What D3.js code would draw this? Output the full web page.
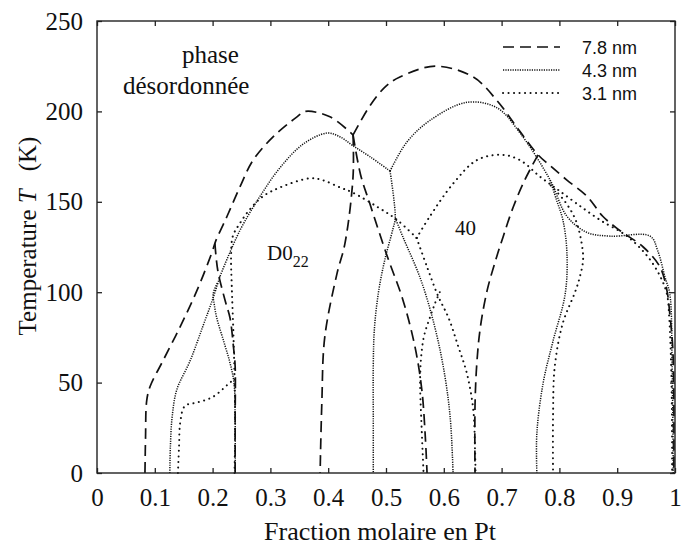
<!DOCTYPE html>
<html>
<head>
<meta charset="utf-8">
<script src="https://cdn.jsdelivr.net/npm/d3@7"></script>
<style>
  body { margin: 0; background: #fff; }
  svg { display: block; }
</style>
</head>
<body>
<div id="chart"></div>
<script>
// tick values
const xTicks = [0, 0.1, 0.2, 0.3, 0.4, 0.5, 0.6, 0.7, 0.8, 0.9, 1];
const yTicks = [0, 50, 100, 150, 200, 250];

// 7.8 nm (dashed) -- [fraction Pt, T]
const d78Outer = [[0.083,0],[0.084,20],[0.086,40],[0.092,48],[0.114,62],[0.144,81],[0.173,101],[0.2,123],[0.205,128],[0.225,142],[0.247,158],[0.27,173],[0.305,186],[0.346,197],[0.36,200],[0.403,197],[0.443,187]];
const d78InnerD022 = [[0.204,127],[0.209,112],[0.222,95],[0.23,86],[0.236,70],[0.239,59],[0.239,30],[0.239,0]];
const d78Dome40 = [[0.443,187],[0.472,203],[0.5,214],[0.524,219],[0.585,225],[0.651,219],[0.692,206],[0.727,191],[0.763,176],[0.784,170],[0.813,162],[0.848,153],[0.875,142],[0.905,134],[0.945,125],[0.974,114],[0.986,101],[0.991,88],[0.996,70],[0.998,40],[0.998,0]];
const d78Left40 = [[0.443,187],[0.443,164],[0.429,127],[0.415,110],[0.394,75],[0.389,39],[0.386,0]];
const d78RightD022 = [[0.443,187],[0.456,165],[0.472,149],[0.502,120],[0.529,96],[0.55,70],[0.562,46],[0.568,20],[0.571,0]];
const d78Right40 = [[0.763,176],[0.74,162],[0.72,147],[0.703,131],[0.69,118],[0.675,101],[0.663,80],[0.657,60],[0.654,37],[0.654,0]];

// 4.3 nm (fine dots)
const d43OuterLeft = [[0.126,0],[0.127,15],[0.13,31],[0.138,46],[0.161,62],[0.183,81],[0.2,96],[0.213,109]];
const d43DomeD022 = [[0.213,109],[0.247,134],[0.282,153],[0.317,169],[0.357,182],[0.398,188],[0.42,186],[0.443,181],[0.472,175],[0.507,167]];
const d43InnerD022 = [[0.208,105],[0.201,99],[0.203,93],[0.207,86],[0.22,72],[0.23,61],[0.237,50],[0.239,30],[0.239,0]];
const d43Dome40 = [[0.507,167],[0.536,183],[0.576,195],[0.64,205],[0.692,202],[0.732,188],[0.784,162],[0.813,142],[0.848,133],[0.888,131],[0.957,131],[0.97,123],[0.983,108],[0.991,99],[0.995,60],[0.997,0]];
const d43Left40 = [[0.507,167],[0.516,141],[0.512,135],[0.498,118],[0.487,100],[0.48,80],[0.478,60],[0.478,30],[0.478,0]];
const d43RightD022 = [[0.516,141],[0.53,130],[0.559,108],[0.581,85],[0.599,59],[0.611,31],[0.616,0]];
const d43Right40 = [[0.784,162],[0.795,151],[0.806,140],[0.813,122],[0.81,99],[0.789,73],[0.772,50],[0.761,22],[0.761,0]];

// 3.1 nm (sparse dots)
const d31OuterLeft = [[0.14,0],[0.142,15],[0.144,28],[0.152,37],[0.173,39],[0.2,42],[0.23,50],[0.238,52]];
const d31DomeD022 = [[0.238,0],[0.239,30],[0.238,52],[0.236,77],[0.233,105],[0.232,120],[0.235,131],[0.247,138],[0.265,146],[0.287,153],[0.317,158],[0.369,163],[0.39,162],[0.42,158],[0.443,155],[0.486,147],[0.519,140],[0.553,130]];
const d31RightD022 = [[0.553,130],[0.571,114],[0.59,98],[0.608,86],[0.625,70],[0.64,55],[0.651,35],[0.654,13],[0.655,0]];
const d31Dome40 = [[0.553,130],[0.576,142],[0.616,160],[0.657,173],[0.7,176],[0.732,173],[0.766,164],[0.796,157],[0.83,149],[0.87,140],[0.917,131],[0.952,120],[0.974,109],[0.986,99],[0.99,86],[0.994,50],[0.995,0]];
const d31Left40 = [[0.593,100],[0.585,94],[0.576,86],[0.566,76],[0.561,65],[0.559,51],[0.561,30],[0.565,0]];
const d31Right40 = [[0.785,159],[0.81,150],[0.828,140],[0.838,128],[0.841,118],[0.835,108],[0.827,100],[0.806,83],[0.792,59],[0.789,31],[0.789,0]];

const seriesNames = ['7.8 nm', '4.3 nm', '3.1 nm'];
const seriesSegments = [
    [d78Outer, d78InnerD022, d78Dome40, d78Left40, d78RightD022, d78Right40],
    [d43OuterLeft, d43DomeD022, d43InnerD022, d43Dome40, d43Left40, d43RightD022, d43Right40],
    [d31OuterLeft, d31DomeD022, d31RightD022, d31Dome40, d31Left40, d31Right40]
];

const SERIF = '"Liberation Serif", "Times New Roman", Times, serif';
const SANS = '"Liberation Sans", Arial, Helvetica, sans-serif';

class PhaseDiagram {
    constructor() {
        this.margin = { top: 21, right: 6, bottom: 72, left: 97 };
        this.width = 681 - this.margin.left - this.margin.right;
        this.height = 545 - this.margin.top - this.margin.bottom;
        this.styles = [
            { width: 1.7, dash: '11,6', cap: 'butt' },
            { width: 1.5, dash: '1.2,1.2', cap: 'butt' },
            { width: 2.0, dash: '0.1,5.4', cap: 'round' }
        ];
        this.drawPlot();
    }

    serifText(parent, size) {
        return parent.append('text')
            .style('font-family', SERIF)
            .style('font-size', size + 'px')
            .style('fill', '#111');
    }

    drawPlot() {
        this.svg = d3.select('#chart')
            .append('svg')
            .attr('width', 681)
            .attr('height', 545);

        let g = this.svg.append('g')
            .attr('transform', 'translate(' + this.margin.left + ',' + this.margin.top + ')');

        let x = d3.scaleLinear().domain([0, 1]).range([0, this.width]);
        let y = d3.scaleLinear().domain([0, 250]).range([this.height, 0]);

        // curves
        let line = d3.line()
            .x(d => x(d[0]))
            .y(d => y(d[1]))
            .curve(d3.curveCatmullRom.alpha(0.5));

        seriesSegments.forEach((segs, i) => {
            let st = this.styles[i];
            g.append('g').selectAll('path')
                .data(segs)
                .join('path')
                .attr('d', line)
                .attr('fill', 'none')
                .attr('stroke', '#111')
                .attr('stroke-width', st.width)
                .attr('stroke-dasharray', st.dash)
                .attr('stroke-linecap', st.cap);
        });

        // axes, ticks inward on all sides
        let fmt = d => d === 0 || d === 1 ? String(d) : d3.format('.1f')(d);
        let xAxis = g.append('g')
            .attr('transform', 'translate(0,' + this.height + ')')
            .call(d3.axisBottom(x).tickValues(xTicks).tickSize(-5).tickPadding(15).tickFormat(fmt));
        let yAxis = g.append('g')
            .call(d3.axisLeft(y).tickValues(yTicks).tickSize(-5).tickPadding(14));
        g.append('g')
            .call(d3.axisTop(x).tickValues(xTicks).tickSize(-5).tickFormat(''));
        g.append('g')
            .attr('transform', 'translate(' + this.width + ',0)')
            .call(d3.axisRight(y).tickValues(yTicks).tickSize(-5).tickFormat(''));

        g.selectAll('.domain').remove();
        g.selectAll('.tick line').attr('stroke', '#222').attr('stroke-width', 1.3);
        [xAxis, yAxis].forEach(a => a.selectAll('text')
            .style('font-family', SERIF)
            .style('font-size', '25px')
            .style('fill', '#111'));

        g.append('rect')
            .attr('width', this.width)
            .attr('height', this.height)
            .attr('fill', 'none')
            .attr('stroke', '#222')
            .attr('stroke-width', 1.4);

        // axis titles
        this.serifText(this.svg, 26)
            .attr('text-anchor', 'middle')
            .attr('x', 380)
            .attr('y', 540)
            .text('Fraction molaire en Pt');

        let yl = this.serifText(this.svg, 25)
            .attr('text-anchor', 'middle')
            .attr('transform', 'translate(36,236) rotate(-90)');
        yl.append('tspan').text('Temperature ');
        yl.append('tspan').style('font-style', 'italic').text('T');
        yl.append('tspan').attr('dx', 18).text('(K)');

        // region labels
        this.serifText(g, 25)
            .attr('x', 182 - this.margin.left).attr('y', 63 - this.margin.top).text('phase');
        this.serifText(g, 25)
            .attr('x', 123 - this.margin.left).attr('y', 94 - this.margin.top).text('désordonnée');

        let dl = this.serifText(g, 21)
            .attr('x', 267 - this.margin.left).attr('y', 260 - this.margin.top);
        dl.append('tspan').text('D0');
        dl.append('tspan').style('font-size', '16px').attr('dy', 7).text('22');

        this.serifText(g, 21)
            .attr('x', 455 - this.margin.left).attr('y', 235 - this.margin.top).text('40');

        // legend
        let leg = g.append('g').attr('transform', 'translate(' + (503 - this.margin.left) + ',' + (47 - this.margin.top) + ')');
        seriesNames.forEach((name, i) => {
            let st = this.styles[i];
            let row = leg.append('g').attr('transform', 'translate(0,' + (i * 23) + ')');
            row.append('line')
                .attr('x1', 0).attr('x2', 57)
                .attr('stroke', '#111')
                .attr('stroke-width', st.width)
                .attr('stroke-dasharray', st.dash)
                .attr('stroke-linecap', st.cap);
            row.append('text')
                .style('font-family', SANS)
                .style('font-size', '18px')
                .style('fill', '#111')
                .attr('x', 79)
                .attr('y', 6.5)
                .text(name);
        });
    }
}

new PhaseDiagram();
</script>
</body>
</html>
